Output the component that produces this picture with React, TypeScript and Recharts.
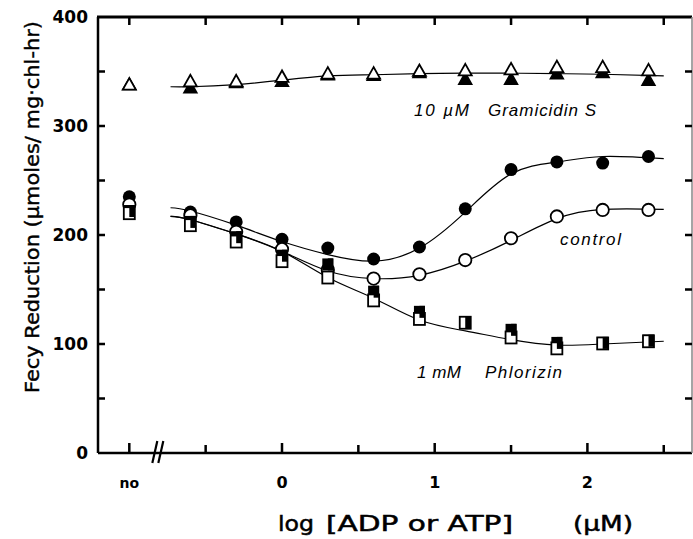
import { ComposedChart, Line, Scatter, XAxis, YAxis } from "recharts";

// x positions: "no" nucleotide drawn at -1, then log10 of 0.25 ... 256 µM
const NO_X = -1;
const BREAK_X = -0.81;
const doses = [NO_X, -0.6, -0.3, 0, 0.3, 0.6, 0.9, 1.2, 1.5, 1.8, 2.1, 2.4];

// measured points (first value = no ADP/ATP)
const gramOpen = [338, 341, 341, 345, 348, 348, 350.5, 351, 352, 354, 354, 351];
const gramFilled = [338, 335, 340, 341, 347, 346.5, 349, 343, 343, 348, 349, 342];
const circFilled = [235, 221, 212, 196, 188, 178, 189, 224, 260, 267, 266, 272];
const circOpen = [228, 218, 203, 187, 168, 160, 164, 177, 197, 217, 223, 223];
const sqFilled = [222, 212, 198, 181, 173, 148, 129.5, 119.5, 113, 101, 101, 103];
const sqOpen = [220, 209, 194, 176, 161, 140, 123, 119.5, 106, 96, 100.5, 102.5];

// fitted curves as drawn
const curveX = [-0.73, -0.6, -0.3, 0, 0.3, 0.6, 0.9, 1.2, 1.5, 1.8, 2.1, 2.5];
const gramCurve = [336, 336, 338, 342, 346, 347, 348, 348.5, 348.5, 348, 347.5, 346];
const upperCurve = [225, 222, 209, 194, 182, 176, 188, 221, 256, 267, 272, 270];
const controlCurve = [217, 214, 201, 185, 167, 160, 163, 176, 195, 215, 223.5, 223.5];
const phlorizinCurve = [217, 214, 201, 185, 161, 142, 122, 112, 104, 99, 100, 102.5];

const xTicks = [-1, BREAK_X, -0.5, 0, 0.5, 1, 1.5, 2, 2.5];
const frameTicks = [-1, -0.5, 0, 0.5, 1, 1.5, 2, 2.5];
const yTicks = [0, 50, 100, 150, 200, 250, 300, 350, 400];

const pts = (ys: number[], xs: number[] = doses) => ys.map((y, i) => ({ x: xs[i], y }));

const FONT = "'DejaVu Sans', sans-serif";
const X_MIN = -1.205;
const X_MAX = 2.685;
const Y_MAX = 400;

// plot box (chart margins + axis sizes give the same box)
const W = 693;
const H = 539;
const LEFT = 98;
const TOP = 17;
const RIGHT = 692;
const BOTTOM = 453;
const sx = (v: number) => LEFT + ((v - X_MIN) / (X_MAX - X_MIN)) * (RIGHT - LEFT);
const sy = (v: number) => BOTTOM - (v / Y_MAX) * (BOTTOM - TOP);

const OpenTri = ({ cx, cy }: any) => (
  <polygon points={`${cx},${cy - 6.5} ${cx - 6.5},${cy + 5} ${cx + 6.5},${cy + 5}`} fill="#fff" stroke="#000" strokeWidth={1.8} />
);
const FilledTri = ({ cx, cy }: any) => (
  <polygon points={`${cx},${cy - 6.5} ${cx - 6.5},${cy + 5} ${cx + 6.5},${cy + 5}`} fill="#000" stroke="#000" strokeWidth={1.5} />
);
const OpenCircle = ({ cx, cy }: any) => <circle cx={cx} cy={cy} r={6.2} fill="#fff" stroke="#000" strokeWidth={1.8} />;
const FilledCircle = ({ cx, cy }: any) => <circle cx={cx} cy={cy} r={6.5} fill="#000" />;
const OpenSquare = ({ cx, cy }: any) => (
  <rect x={cx - 5.5} y={cy - 6} width={11} height={12} fill="#fff" stroke="#000" strokeWidth={1.8} />
);
const FilledSquare = ({ cx, cy }: any) => <rect x={cx - 5.5} y={cy - 6} width={11} height={12} fill="#000" />;
const HalfSquare = ({ cx, cy }: any) => <rect x={cx} y={cy - 6} width={5.5} height={12} fill="#000" />;

const BottomTick = ({ x, y, payload }: any) => {
  const v = payload.value;
  if (v === BREAK_X) {
    return (
      <g stroke="#000" strokeWidth={2.2}>
        <line x1={x - 6} x2={x - 1} y1={y + 10} y2={y - 12} />
        <line x1={x} x2={x + 5} y1={y + 10} y2={y - 12} />
      </g>
    );
  }
  const label = v === NO_X ? "no" : Number.isInteger(v) ? String(v) : "";
  if (!label) return <g />;
  return (
    <text x={x} y={y + 35} textAnchor="middle" fontFamily={FONT} fontWeight="bold" fontSize={v === NO_X ? 14 : 16}>
      {label}
    </text>
  );
};

const LeftTick = ({ x, y, payload }: any) =>
  payload.value % 100 === 0 ? (
    <text x={x - 10} y={y + 6} textAnchor="end" fontFamily={FONT} fontWeight="bold" fontSize={17}>
      {payload.value}
    </text>
  ) : (
    <g />
  );

// top and right edges of the box with inward ticks on all four sides
const Frame = () => (
  <g fill="#000">
    <rect x={LEFT - 1} y={TOP - 1.5} width={RIGHT - LEFT + 1} height={3} />
    <rect x={RIGHT - 0.75} y={TOP} width={1.5} height={BOTTOM - TOP} fill="#888" />
    {frameTicks.map((t) => {
      const len = Number.isInteger(t) ? 10 : 8;
      return (
        <g key={`x${t}`}>
          <rect x={sx(t) - 1.25} y={BOTTOM - len} width={2.5} height={len} />
          <rect x={sx(t) - 1.25} y={TOP} width={2.5} height={8} />
        </g>
      );
    })}
    {yTicks.slice(1, -1).map((t) => (
      <g key={`y${t}`}>
        <rect x={LEFT} y={sy(t) - 1.25} width={7} height={2.5} />
        <rect x={RIGHT - 7} y={sy(t) - 1.25} width={7} height={2.5} />
      </g>
    ))}
  </g>
);

const App = () => {
  return (
    <div style={{ position: "absolute", left: 0, top: 0, width: W, height: H, background: "#fff" }}>
      <ComposedChart width={W} height={H} margin={{ top: TOP, right: W - RIGHT, bottom: 0, left: 0 }}>
        <XAxis
          xAxisId="b"
          type="number"
          dataKey="x"
          domain={[X_MIN, X_MAX]}
          allowDataOverflow
          ticks={xTicks}
          interval={0}
          height={H - BOTTOM}
          tickSize={0}
          tickMargin={0}
          tickLine={false}
          tick={<BottomTick />}
          axisLine={{ stroke: "#000", strokeWidth: 2.5 }}
        />
        <YAxis
          yAxisId="l"
          type="number"
          dataKey="y"
          domain={[0, Y_MAX]}
          allowDataOverflow
          ticks={yTicks}
          interval={0}
          width={LEFT}
          tickSize={0}
          tickMargin={0}
          tickLine={false}
          tick={<LeftTick />}
          axisLine={{ stroke: "#000", strokeWidth: 2.5 }}
        />

        <Line xAxisId="b" yAxisId="l" data={pts(gramCurve, curveX)} dataKey="y" type="natural" stroke="#000" strokeWidth={1.2} dot={false} isAnimationActive={false} />
        <Line xAxisId="b" yAxisId="l" data={pts(upperCurve, curveX)} dataKey="y" type="natural" stroke="#000" strokeWidth={1.2} dot={false} isAnimationActive={false} />
        <Line xAxisId="b" yAxisId="l" data={pts(controlCurve, curveX)} dataKey="y" type="natural" stroke="#000" strokeWidth={1.2} dot={false} isAnimationActive={false} />
        <Line xAxisId="b" yAxisId="l" data={pts(phlorizinCurve, curveX)} dataKey="y" type="natural" stroke="#000" strokeWidth={1.2} dot={false} isAnimationActive={false} />

        <Scatter xAxisId="b" yAxisId="l" data={pts(gramFilled)} dataKey="y" shape={FilledTri} isAnimationActive={false} />
        <Scatter xAxisId="b" yAxisId="l" data={pts(gramOpen)} dataKey="y" shape={OpenTri} isAnimationActive={false} />
        <Scatter xAxisId="b" yAxisId="l" data={pts(circFilled)} dataKey="y" shape={FilledCircle} isAnimationActive={false} />
        <Scatter xAxisId="b" yAxisId="l" data={pts(circOpen)} dataKey="y" shape={OpenCircle} isAnimationActive={false} />
        <Scatter xAxisId="b" yAxisId="l" data={pts(sqFilled)} dataKey="y" shape={FilledSquare} isAnimationActive={false} />
        <Scatter xAxisId="b" yAxisId="l" data={pts(sqOpen)} dataKey="y" shape={OpenSquare} isAnimationActive={false} />
        <Scatter xAxisId="b" yAxisId="l" data={pts(sqFilled)} dataKey="y" shape={HalfSquare} isAnimationActive={false} />
      </ComposedChart>

      <svg width={W} height={H} style={{ position: "absolute", left: 0, top: 0, pointerEvents: "none" }}>
        <Frame />
        <text
          transform="translate(39,207) rotate(-90)"
          textAnchor="middle"
          fontFamily={FONT}
          fontSize={19}
          stroke="#000"
          strokeWidth={0.4}
          textLength={372}
          lengthAdjust="spacingAndGlyphs"
        >
          Fecy Reduction (µmoles/ mg·chl-hr)
        </text>
        <g fontFamily={FONT} fontSize={21} stroke="#000" strokeWidth={0.5}>
          <text x={278} y={531} textLength={36} lengthAdjust="spacingAndGlyphs">log</text>
          <text x={326} y={531} textLength={187} lengthAdjust="spacingAndGlyphs">[ADP or ATP]</text>
          <text x={573} y={531} textLength={60} lengthAdjust="spacingAndGlyphs">(µM)</text>
        </g>

        <g fontFamily="'Liberation Sans', sans-serif" fontStyle="italic" fontSize={17}>
          <text x={414} y={116} textLength={55} lengthAdjust="spacing">10 µM</text>
          <text x={488} y={116} textLength={108} lengthAdjust="spacing">Gramicidin S</text>
          <text x={560} y={245} textLength={61} lengthAdjust="spacing">control</text>
          <text x={417} y={378} textLength={44} lengthAdjust="spacing">1 mM</text>
          <text x={485} y={378} textLength={77} lengthAdjust="spacing">Phlorizin</text>
        </g>
      </svg>
    </div>
  );
};

export default App;
